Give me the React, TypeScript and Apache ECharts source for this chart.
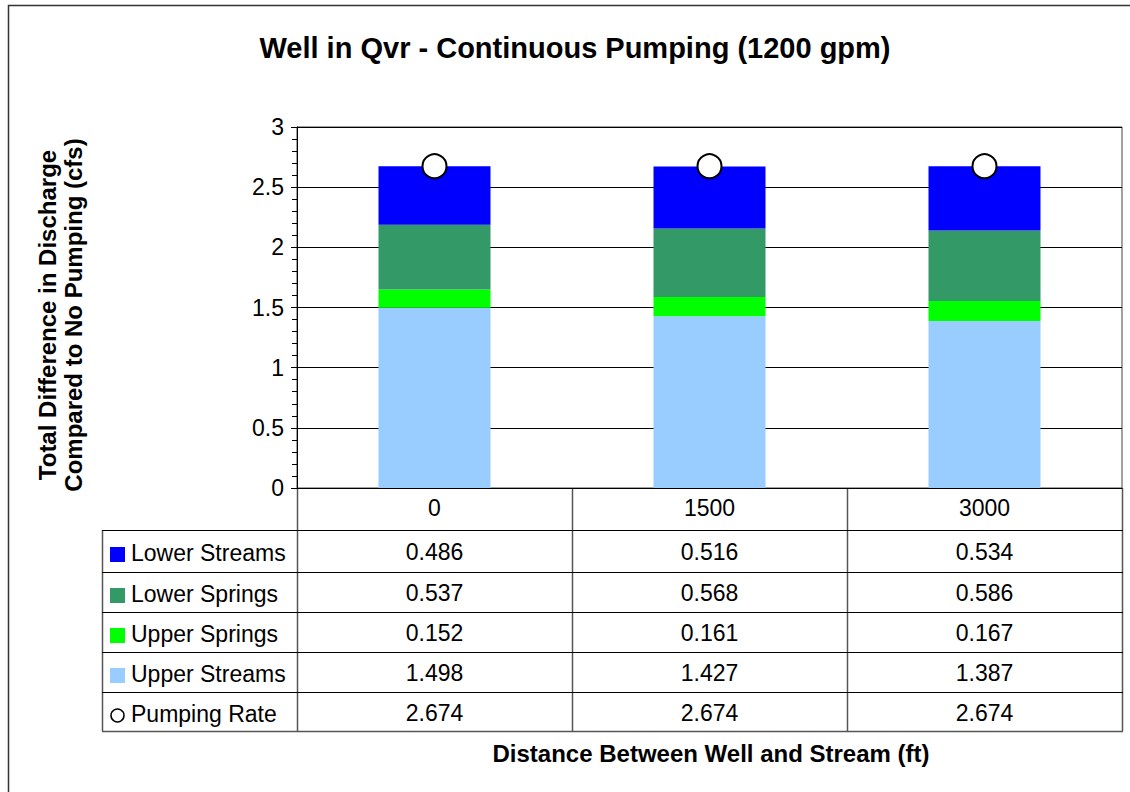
import React, { useEffect, useRef } from "react";
import * as echarts from "echarts";

const categories = ["0", "1500", "3000"];
const lowerStreams = [0.486, 0.516, 0.534];
const lowerSprings = [0.537, 0.568, 0.586];
const upperSprings = [0.152, 0.161, 0.167];
const upperStreams = [1.498, 1.427, 1.387];
const pumpingRate = [2.674, 2.674, 2.674];
const yTicks = { min: 0, max: 3, interval: 0.5 };

const titleText = "Well in Qvr - Continuous Pumping (1200 gpm)";
const yTitle = "Total Difference in Discharge\nCompared to No Pumping (cfs)";
const xTitle = "Distance Between Well and Stream (ft)";

const COLORS = {
  lowerStreams: "#0000FF",
  lowerSprings: "#339966",
  upperSprings: "#00FF00",
  upperStreams: "#99CCFF",
};

const FONT = "Arial, 'Liberation Sans', sans-serif";

export default function App() {
  const ref = useRef<HTMLDivElement>(null);

  useEffect(() => {
    if (!ref.current) return;
    const chart = echarts.init(ref.current, undefined, { renderer: "svg" });

    const gridLeft = 297;
    const gridTop = 127;
    const gridWidth = 825;
    const gridHeight = 361;
    const gridBottomY = gridTop + gridHeight;
    const colW = gridWidth / categories.length;
    const tableLeft = 102;
    const tableRight = gridLeft + gridWidth;
    const rowBounds = [530, 572, 612, 652, 692, 731];

    const tableRows = [
      { name: "Lower Streams", values: lowerStreams, color: COLORS.lowerStreams, marker: "rect" },
      { name: "Lower Springs", values: lowerSprings, color: COLORS.lowerSprings, marker: "rect" },
      { name: "Upper Springs", values: upperSprings, color: COLORS.upperSprings, marker: "rect" },
      { name: "Upper Streams", values: upperStreams, color: COLORS.upperStreams, marker: "rect" },
      { name: "Pumping Rate", values: pumpingRate, color: "#fff", marker: "circle" },
    ];

    const graphics: any[] = [];
    graphics.push({
      type: "rect",
      shape: { x: 8.5, y: 5.5, width: 1130, height: 800 },
      style: { fill: "none", stroke: "#333", lineWidth: 1.5 },
      silent: true,
    });
    graphics.push({
      type: "text",
      x: 575,
      y: 48,
      style: {
        text: titleText,
        font: `bold 29px ${FONT}`,
        fill: "#000",
        align: "center",
        verticalAlign: "middle",
      },
    });
    graphics.push({
      type: "text",
      x: 60,
      y: 315,
      rotation: Math.PI / 2,
      style: {
        text: yTitle,
        font: `bold 24px ${FONT}`,
        lineHeight: 26,
        fill: "#000",
        align: "center",
        verticalAlign: "middle",
      },
    });
    graphics.push({
      type: "text",
      x: 711,
      y: 753,
      style: {
        text: xTitle,
        font: `bold 24px ${FONT}`,
        fill: "#000",
        align: "center",
        verticalAlign: "middle",
      },
    });

    for (let i = 0; i <= categories.length; i++) {
      const x = Math.round(gridLeft + i * colW) + 0.5;
      graphics.push({
        type: "line",
        shape: { x1: x, y1: gridBottomY, x2: x, y2: rowBounds[rowBounds.length - 1] },
        style: { stroke: "#555", lineWidth: 1.5 },
        silent: true,
      });
    }
    graphics.push({
      type: "line",
      shape: { x1: tableLeft + 0.5, y1: rowBounds[0], x2: tableLeft + 0.5, y2: rowBounds[rowBounds.length - 1] },
      style: { stroke: "#555", lineWidth: 1.5 },
      silent: true,
    });
    rowBounds.forEach((y, idx) => {
      const last = idx === rowBounds.length - 1;
      graphics.push({
        type: "line",
        shape: { x1: tableLeft, y1: y + 0.5, x2: tableRight + 1, y2: y + 0.5 },
        style: { stroke: last ? "#555" : "#000", lineWidth: last ? 1.5 : 1 },
        silent: true,
      });
    });

    tableRows.forEach((row, r) => {
      const cy = (rowBounds[r] + rowBounds[r + 1]) / 2;
      if (row.marker === "rect") {
        graphics.push({
          type: "rect",
          shape: { x: 110, y: cy - 4, width: 15, height: 15 },
          style: { fill: row.color },
          silent: true,
        });
      } else {
        graphics.push({
          type: "circle",
          shape: { cx: 117.5, cy: cy + 4, r: 6.5 },
          style: { fill: "#fff", stroke: "#000", lineWidth: 1.5 },
          silent: true,
        });
      }
      graphics.push({
        type: "text",
        x: 131,
        y: cy + 2,
        style: {
          text: row.name,
          font: `23px ${FONT}`,
          fill: "#000",
          align: "left",
          verticalAlign: "middle",
        },
      });
      row.values.forEach((v, c) => {
        graphics.push({
          type: "text",
          x: gridLeft + (c + 0.5) * colW,
          y: cy + 1,
          style: {
            text: v.toFixed(3),
            font: `23px ${FONT}`,
            fill: "#000",
            align: "center",
            verticalAlign: "middle",
          },
        });
      });
    });

    const barCommon = {
      type: "bar" as const,
      stack: "total",
      barWidth: 112,
      silent: true,
    };

    chart.setOption({
      animation: false,
      backgroundColor: "#fff",
      textStyle: { fontFamily: FONT },
      grid: {
        left: gridLeft,
        top: gridTop,
        width: gridWidth,
        height: gridHeight,
        show: true,
        borderColor: "#444",
        borderWidth: 1,
        backgroundColor: "transparent",
      },
      xAxis: {
        type: "category",
        data: categories,
        axisLine: { show: true, lineStyle: { color: "#000", width: 1 } },
        axisTick: { show: false },
        axisLabel: { fontSize: 23, color: "#000", margin: 8, fontFamily: FONT },
        splitLine: { show: false },
      },
      yAxis: {
        type: "value",
        min: yTicks.min,
        max: yTicks.max,
        interval: yTicks.interval,
        axisLine: { show: true, lineStyle: { color: "#000", width: 1 } },
        axisTick: { show: true, inside: false, length: 6, lineStyle: { color: "#000" } },
        minorTick: { show: true, splitNumber: 5, length: 5, lineStyle: { color: "#000" } },
        axisLabel: {
          fontSize: 23,
          color: "#000",
          margin: 13,
          fontFamily: FONT,
          formatter: (v: number) => String(v),
        },
        splitLine: { show: true, lineStyle: { color: "#000", width: 1 } },
      },
      series: [
        { ...barCommon, name: "Upper Streams", data: upperStreams, itemStyle: { color: COLORS.upperStreams } },
        { ...barCommon, name: "Upper Springs", data: upperSprings, itemStyle: { color: COLORS.upperSprings } },
        { ...barCommon, name: "Lower Springs", data: lowerSprings, itemStyle: { color: COLORS.lowerSprings } },
        { ...barCommon, name: "Lower Streams", data: lowerStreams, itemStyle: { color: COLORS.lowerStreams } },
        {
          type: "scatter",
          name: "Pumping Rate",
          data: pumpingRate,
          symbol: "circle",
          symbolSize: 24,
          z: 5,
          silent: true,
          itemStyle: { color: "#fff", borderColor: "#000", borderWidth: 2, opacity: 1 },
        },
      ],
      graphic: { elements: graphics },
    });

    return () => chart.dispose();
  }, []);

  return (
    <div
      ref={ref}
      style={{ position: "absolute", left: 0, top: 0, width: 1130, height: 792 }}
    />
  );
}
